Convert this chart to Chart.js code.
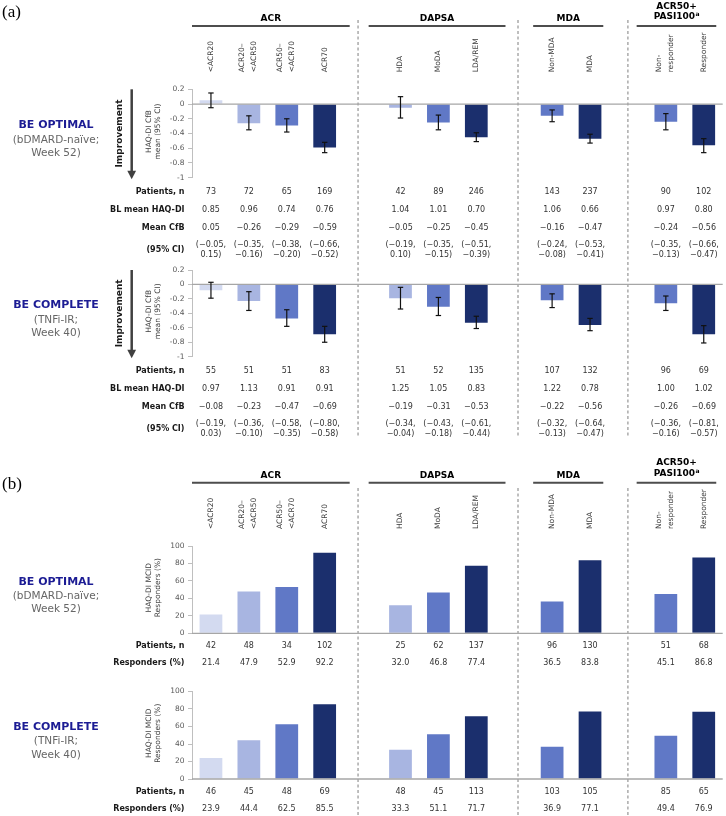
<!DOCTYPE html>
<html>
<head>
<meta charset="utf-8">
<script src="https://cdn.jsdelivr.net/npm/chart.js@4.4.1/dist/chart.umd.min.js"></script>
<style>
  body { margin: 0; background: #fff; width: 726px; height: 816px; position: relative; overflow: hidden; }
  canvas { position: absolute; left: 0; }
</style>
</head>
<body>
<canvas id="optimalCfb" width="726" height="262" style="top:0px"></canvas>
<canvas id="completeCfb" width="726" height="193" style="top:262px"></canvas>
<canvas id="optimalMcid" width="726" height="225" style="top:455px"></canvas>
<canvas id="completeMcid" width="726" height="136" style="top:680px"></canvas>
<script>
//DATA
const categories = [['<ACR20'], ['ACR20–', '<ACR50'], ['ACR50–', '<ACR70'], ['ACR70'],
    ['HDA'], ['MoDA'], ['LDA/REM'], ['Non-MDA'], ['MDA'], ['Non-', 'responder'], ['Responder']];
const categoryGroup = [0, 0, 0, 0, 1, 1, 1, 2, 2, 3, 3];
const groupTitles = [['ACR'], ['DAPSA'], ['MDA'], ['ACR50+', 'PASI100']];
const shadeOf = [0, 1, 2, 3, 1, 2, 3, 2, 3, 2, 3];

const cfbTicks = [0.2, 0, -0.2, -0.4, -0.6, -0.8, -1];
const pctTicks = [0, 20, 40, 60, 80, 100];

// BE OPTIMAL, week 52
const optimalN = [73, 72, 65, 169, 42, 89, 246, 143, 237, 90, 102];
const optimalBL = [0.85, 0.96, 0.74, 0.76, 1.04, 1.01, 0.70, 1.06, 0.66, 0.97, 0.80];
const optimalCfb = [0.05, -0.26, -0.29, -0.59, -0.05, -0.25, -0.45, -0.16, -0.47, -0.24, -0.56];
const optimalLow = [-0.05, -0.35, -0.38, -0.66, -0.19, -0.35, -0.51, -0.24, -0.53, -0.35, -0.66];
const optimalHigh = [0.15, -0.16, -0.20, -0.52, 0.10, -0.15, -0.39, -0.08, -0.41, -0.13, -0.47];

// BE COMPLETE, week 40
const completeN = [55, 51, 51, 83, 51, 52, 135, 107, 132, 96, 69];
const completeBL = [0.97, 1.13, 0.91, 0.91, 1.25, 1.05, 0.83, 1.22, 0.78, 1.00, 1.02];
const completeCfb = [-0.08, -0.23, -0.47, -0.69, -0.19, -0.31, -0.53, -0.22, -0.56, -0.26, -0.69];
const completeLow = [-0.19, -0.36, -0.58, -0.80, -0.34, -0.43, -0.61, -0.32, -0.64, -0.36, -0.81];
const completeHigh = [0.03, -0.10, -0.35, -0.58, -0.04, -0.18, -0.44, -0.13, -0.47, -0.16, -0.57];

// HAQ-DI MCID responders
const optimalMcidN = [42, 48, 34, 102, 25, 62, 137, 96, 130, 51, 68];
const optimalMcidPct = [21.4, 47.9, 52.9, 92.2, 32.0, 46.8, 77.4, 36.5, 83.8, 45.1, 86.8];
const completeMcidN = [46, 45, 48, 69, 48, 45, 113, 103, 105, 85, 65];
const completeMcidPct = [23.9, 44.4, 62.5, 85.5, 33.3, 51.1, 71.7, 36.9, 77.1, 49.4, 76.9];

//LAYOUT
const shades = ['#d3daf0', '#a8b5e1', '#6078c6', '#1b2f6d'];
const groupSpan = [[-0.5, 3.66], [4.16, 7.77], [8.5, 10.35], [11.23, 13.33]]; // in slot units
const dividerAt = [3.88, 8.1, 11.0];
const FONT = "'DejaVu Sans', Verdana, sans-serif";
const nSlots = categories.length + groupTitles.length - 1;

function toSlots(arr) {
    const out = new Array(nSlots).fill(null);
    arr.forEach((v, i) => { out[i + categoryGroup[i]] = v; });
    return out;
}
const slotLabels = toSlots(categories.map(c => c.join(' '))).map(l => l || '');
const barColors = toSlots(shadeOf.map(s => shades[s]));

function fmt(v) { return (v < 0 ? '−' : '') + Math.abs(v).toFixed(2); }

function txt(ctx, s, x, y, size, color, opt = {}) {
    ctx.font = (opt.bold ? 'bold ' : '') + size + 'px ' + (opt.family || FONT);
    ctx.fillStyle = color;
    ctx.textAlign = opt.align || 'center';
    ctx.textBaseline = 'middle';
    if (opt.rot) {
        ctx.save();
        ctx.translate(x, y);
        ctx.rotate(-Math.PI / 2);
        ctx.fillText(s, 0, 0);
        ctx.restore();
    } else {
        ctx.fillText(s, x, y);
    }
}

function line(ctx, x1, y1, x2, y2) {
    ctx.beginPath();
    ctx.moveTo(x1, y1);
    ctx.lineTo(x2, y2);
    ctx.stroke();
}

const figurePlugin = {
    id: 'figure',
    afterDraw(chart, args, o) {
        const ctx = chart.ctx, xs = chart.scales.x, ys = chart.scales.y, a = chart.chartArea;
        const mid = (a.top + a.bottom) / 2;
        const px = i => xs.getPixelForValue(i + categoryGroup[i]);
        ctx.save();

        // dashed dividers between groups
        ctx.setLineDash([3, 2.5]);
        ctx.strokeStyle = '#7f7f7f';
        ctx.lineWidth = 1;
        dividerAt.forEach(d => {
            const x = xs.getPixelForValue(d);
            line(ctx, x, o.dashTop, x, o.dashBottom);
        });
        ctx.setLineDash([]);

        // zero line
        const y0 = ys.getPixelForValue(0);
        ctx.strokeStyle = '#a6a6a6';
        ctx.lineWidth = 1.3;
        line(ctx, a.left, y0, a.right, y0);

        // error bars
        if (o.low) {
            ctx.strokeStyle = '#111';
            ctx.lineWidth = 1.2;
            o.low.forEach((lo, i) => {
                const x = px(i), yl = ys.getPixelForValue(lo), yh = ys.getPixelForValue(o.high[i]);
                line(ctx, x, yl, x, yh);
                line(ctx, x - 2.7, yl, x + 2.7, yl);
                line(ctx, x - 2.7, yh, x + 2.7, yh);
            });
        }

        // group headers and category labels
        if (o.header) {
            groupTitles.forEach((t, g) => {
                const x1 = xs.getPixelForValue(groupSpan[g][0]), x2 = xs.getPixelForValue(groupSpan[g][1]);
                const cx = (x1 + x2) / 2;
                ctx.strokeStyle = '#4d4d4d';
                ctx.lineWidth = 2;
                line(ctx, x1, a.top - 63.3, x2, a.top - 63.3);
                if (t.length === 1) {
                    txt(ctx, t[0], cx, a.top - 70.5, 9, '#000', { bold: true });
                } else {
                    txt(ctx, t[0], cx, a.top - 83, 9, '#000', { bold: true });
                    ctx.font = 'bold 9px ' + FONT;
                    const w = ctx.measureText(t[1]).width;
                    ctx.font = 'bold 6px ' + FONT;
                    const ws = ctx.measureText('a').width;
                    const left = cx - (w + ws) / 2;
                    txt(ctx, t[1], left, a.top - 72.5, 9, '#000', { bold: true, align: 'left' });
                    txt(ctx, 'a', left + w + 0.5, a.top - 75, 6, '#000', { bold: true, align: 'left' });
                }
            });
            categories.forEach((c, i) => {
                const n = c.length;
                c.forEach((s, k) => {
                    const x = px(i) + (k - (n - 1) / 2) * 12 - (n > 1 ? 1 : 0);
                    txt(ctx, s, x, a.top - 17, 7.5, '#3a3a3a', { rot: true, align: 'left' });
                });
            });
        }

        if (o.panel) {
            txt(ctx, o.panel, 2, o.panelY, 17, '#000', { align: 'left', family: "'Liberation Serif', 'DejaVu Serif', serif" });
        }

        // study name
        txt(ctx, o.study[0], 56, mid - 8, 11, '#1c1c94', { bold: true });
        txt(ctx, o.study[1], 56, mid + 6.5, 10.5, '#666');
        txt(ctx, o.study[2], 56, mid + 20, 10.5, '#666');

        // y-axis title
        txt(ctx, o.yTitle[0], 149, mid - 2, 7.5, '#404040', { rot: true });
        txt(ctx, o.yTitle[1], 158, mid - 2, 7.5, '#404040', { rot: true });

        // improvement arrow
        if (o.improvement) {
            ctx.strokeStyle = '#404040';
            ctx.fillStyle = '#404040';
            ctx.lineWidth = 2.5;
            line(ctx, 131.7, a.top, 131.7, a.bottom - 6);
            ctx.beginPath();
            ctx.moveTo(127.3, a.bottom - 7);
            ctx.lineTo(136.1, a.bottom - 7);
            ctx.lineTo(131.7, a.bottom + 1.5);
            ctx.closePath();
            ctx.fill();
            txt(ctx, 'Improvement', 120, mid, 9, '#1a1a1a', { bold: true, rot: true });
        }

        // table under the chart
        o.rows.forEach(r => {
            const yy = a.bottom + r.dy;
            txt(ctx, r.label, 184.5, yy, 8, '#1a1a1a', { bold: true, align: 'right' });
            r.vals.forEach((v, i) => {
                if (Array.isArray(v)) {
                    txt(ctx, v[0], px(i), yy - 5, 8, '#333');
                    txt(ctx, v[1], px(i), yy + 5, 8, '#333');
                } else {
                    txt(ctx, v, px(i), yy, 8, '#333');
                }
            });
        });

        ctx.restore();
    }
};

function buildChart(id, values, tickVals, fig) {
    const min = Math.min(...tickVals), max = Math.max(...tickVals);
    return new Chart(document.getElementById(id), {
        type: 'bar',
        data: {
            labels: slotLabels,
            datasets: [{
                data: toSlots(values),
                backgroundColor: barColors,
                barPercentage: 0.6,
                categoryPercentage: 1
            }]
        },
        options: {
            responsive: false,
            animation: false,
            layout: { padding: { top: fig.padTop, bottom: fig.padBottom, left: 0, right: 3.3 } },
            plugins: { legend: { display: false }, tooltip: { enabled: false }, figure: fig },
            scales: {
                x: { display: false },
                y: {
                    min: min,
                    max: max,
                    afterFit(s) { s.width = 192; },
                    afterBuildTicks(s) { s.ticks = tickVals.map(v => ({ value: v })); },
                    ticks: { font: { family: FONT, size: 7.5 }, color: '#595959', padding: 3.5, callback: v => String(v) },
                    grid: { drawOnChartArea: false, tickLength: 4, color: '#bfbfbf' },
                    border: { color: '#bfbfbf' }
                }
            }
        },
        plugins: [figurePlugin]
    });
}

function cfbRows(n, bl, cfb, low, high) {
    return [
        { label: 'Patients, n', dy: 14.5, vals: n.map(String) },
        { label: 'BL mean HAQ-DI', dy: 31.8, vals: bl.map(fmt) },
        { label: 'Mean CfB', dy: 49.8, vals: cfb.map(fmt) },
        { label: '(95% CI)', dy: 72, vals: low.map((l, i) => ['(' + fmt(l) + ',', fmt(high[i]) + ')']) }
    ];
}

function mcidRows(n, pct) {
    return [
        { label: 'Patients, n', dy: 13, vals: n.map(String) },
        { label: 'Responders (%)', dy: 29.5, vals: pct.map(v => v.toFixed(1)) }
    ];
}

buildChart('optimalCfb', optimalCfb, cfbTicks, {
    padTop: 89.3, padBottom: 84.3, header: true, panel: '(a)', panelY: 13,
    dashTop: 20, dashBottom: 262, improvement: true,
    study: ['BE OPTIMAL', '(bDMARD-naïve;', 'Week 52)'],
    yTitle: ['HAQ-DI CfB', 'mean (95% CI)'],
    low: optimalLow, high: optimalHigh,
    rows: cfbRows(optimalN, optimalBL, optimalCfb, optimalLow, optimalHigh)
});

buildChart('completeCfb', completeCfb, cfbTicks, {
    padTop: 7, padBottom: 98.3, header: false,
    dashTop: 0, dashBottom: 175, improvement: true,
    study: ['BE COMPLETE', '(TNFi-IR;', 'Week 40)'],
    yTitle: ['HAQ-DI CfB', 'mean (95% CI)'],
    low: completeLow, high: completeHigh,
    rows: cfbRows(completeN, completeBL, completeCfb, completeLow, completeHigh)
});

buildChart('optimalMcid', optimalMcidPct, pctTicks, {
    padTop: 91, padBottom: 46.7, header: true, panel: '(b)', panelY: 30,
    dashTop: 33, dashBottom: 225, improvement: false,
    study: ['BE OPTIMAL', '(bDMARD-naïve;', 'Week 52)'],
    yTitle: ['HAQ-DI MCID', 'Responders (%)'],
    rows: mcidRows(optimalMcidN, optimalMcidPct)
});

buildChart('completeMcid', completeMcidPct, pctTicks, {
    padTop: 11.5, padBottom: 37, header: false,
    dashTop: 0, dashBottom: 136, improvement: false,
    study: ['BE COMPLETE', '(TNFi-IR;', 'Week 40)'],
    yTitle: ['HAQ-DI MCID', 'Responders (%)'],
    rows: mcidRows(completeMcidN, completeMcidPct)
});
</script>
</body>
</html>
